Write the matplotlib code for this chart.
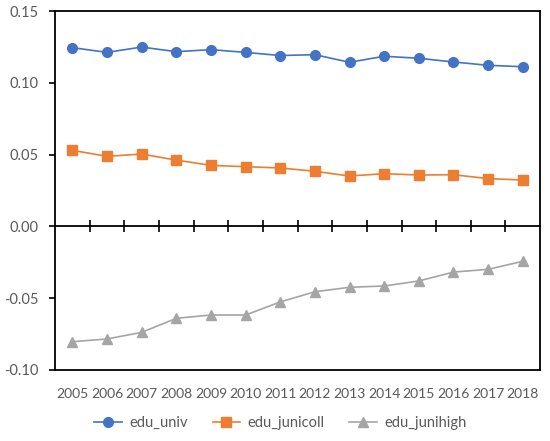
import numpy as np
import matplotlib
matplotlib.use("Agg")
import matplotlib.pyplot as plt

years = [str(y) for y in range(2005, 2019)]
edu_univ = [0.1245, 0.1212, 0.1249, 0.1217, 0.1231, 0.1212, 0.1190,
            0.1196, 0.1143, 0.1185, 0.1171, 0.1145, 0.1122, 0.1112]
edu_junicoll = [0.0530, 0.0488, 0.0504, 0.0462, 0.0425, 0.0416, 0.0407,
                0.0384, 0.0351, 0.0367, 0.0358, 0.0360, 0.0333, 0.0323]
edu_junihigh = [-0.0803, -0.0784, -0.0738, -0.0640, -0.0617, -0.0617, -0.0526,
                -0.0455, -0.0424, -0.0415, -0.0380, -0.0318, -0.0299, -0.0243]
yticks = [-0.10, -0.05, 0.00, 0.05, 0.10, 0.15]

plt.rcParams['font.family'] = ['Lato', 'DejaVu Sans']
text_color = "#595959"

fig = plt.figure(figsize=(5.5, 4.41), dpi=100)
ax = fig.add_axes([0.1, 0.161, 0.882, 0.814])

x = np.arange(len(years))
ax.plot(x, edu_univ, color="#4472C4", lw=1.2, marker="o", ms=7,
        label="edu_univ")
ax.plot(x, edu_junicoll, color="#ED7D31", lw=1.2, marker="s", ms=6.5,
        label="edu_junicoll")
ax.plot(x, edu_junihigh, color="#A5A5A5", lw=1.2, marker="^", ms=7.5,
        label="edu_junihigh")

ax.set_xlim(-0.5, len(years) - 0.5)
ax.set_ylim(-0.10, 0.15)
ax.set_yticks(yticks)
ax.set_yticklabels([f"{v:.2f}" for v in yticks])
ax.set_xticks(x)
ax.set_xticklabels(years)
ax.tick_params(axis="x", length=0, pad=13, labelsize=10, labelcolor=text_color)
ax.tick_params(axis="y", length=4, width=1.2, pad=8, labelsize=10.5,
               labelcolor=text_color, direction="out")
for sp in ax.spines.values():
    sp.set_color("black")
    sp.set_linewidth(1.3)

# horizontal axis crossing at zero, with category boundary ticks
zero_frac = (0 - (-0.10)) / (0.15 - (-0.10))
sec = ax.secondary_xaxis(zero_frac)
sec.set_xticks(np.arange(0.5, len(years) - 1, 1.0))
sec.tick_params(axis="x", direction="inout", length=8, width=1.2,
                labelbottom=False, labeltop=False)
sec.spines["bottom"].set_linewidth(1.3)
sec.spines["bottom"].set_color("black")

leg = fig.legend(loc="center", bbox_to_anchor=(0.51, 0.04), ncol=3,
                 frameon=False, fontsize=10.5, handlelength=1.9,
                 columnspacing=1.7, handletextpad=0.5)
for t in leg.get_texts():
    t.set_color(text_color)

fig.savefig("out.png", dpi=100)
